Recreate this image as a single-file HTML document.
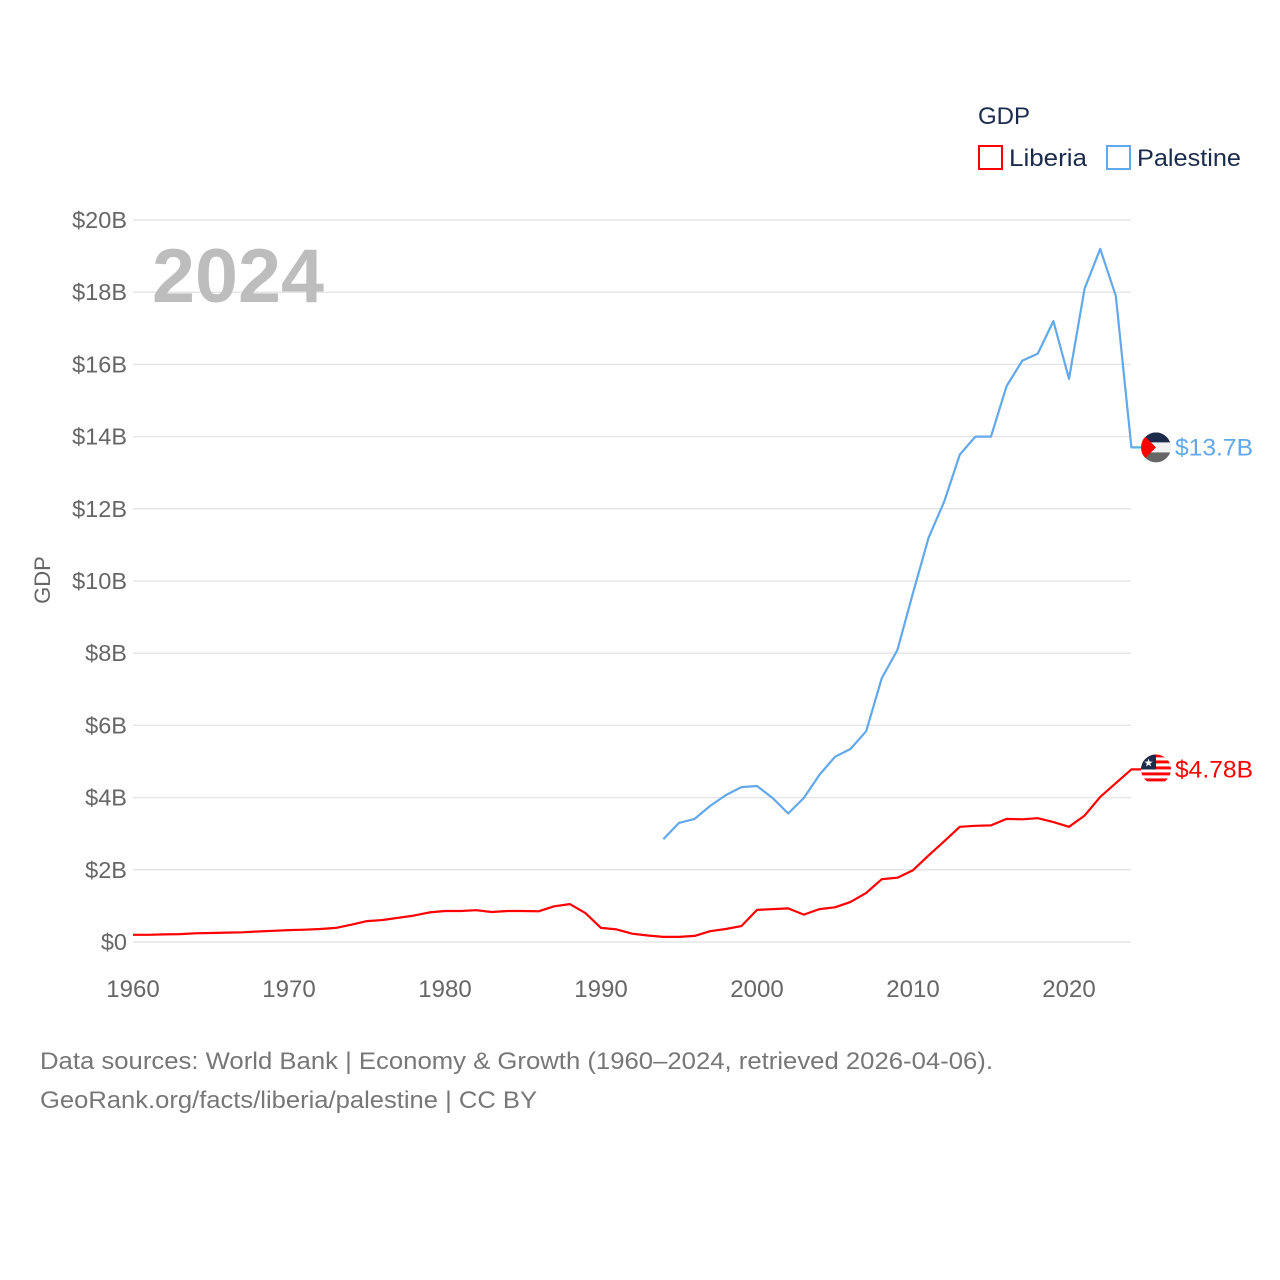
<!DOCTYPE html>
<html><head><meta charset="utf-8"><style>
html,body{margin:0;padding:0;background:#fff;}
svg{display:block;font-family:"Liberation Sans",sans-serif;}
</style></head><body>
<svg id="chart" width="1280" height="1280" viewBox="0 0 1280 1280">
<g id="grid"></g>
<g id="yticks"></g>
<g id="xticks"></g>
<text x="152" y="302" font-size="76" font-weight="bold" fill="#bdbdbd" textLength="172" lengthAdjust="spacingAndGlyphs">2024</text>
<text transform="translate(50,580) rotate(-90)" text-anchor="middle" font-size="22" fill="#666">GDP</text>
<g id="series"></g>
<g>
<text x="978" y="124" font-size="24" fill="#1a2b4c">GDP</text>
<g><rect x="979" y="146" width="23" height="23" fill="none" stroke="#ff0000" stroke-width="2"/><text x="1009" y="166" font-size="24" fill="#1a2b4c" textLength="78" lengthAdjust="spacingAndGlyphs">Liberia</text></g>
<g><rect x="1107" y="146" width="23" height="23" fill="none" stroke="#62a8ea" stroke-width="2"/><text x="1137" y="166" font-size="24" fill="#1a2b4c" textLength="104" lengthAdjust="spacingAndGlyphs">Palestine</text></g>
</g>
<text x="40" y="1069" font-size="24" fill="#777" textLength="953" lengthAdjust="spacingAndGlyphs">Data sources: World Bank | Economy &amp; Growth (1960–2024, retrieved 2026-04-06).</text>
<text x="40" y="1108" font-size="24" fill="#777" textLength="497" lengthAdjust="spacingAndGlyphs">GeoRank.org/facts/liberia/palestine | CC BY</text>
</svg>
<script>
const yTicks=[0,2,4,6,8,10,12,14,16,18,20];
const xTicks=[1960,1970,1980,1990,2000,2010,2020];
const liberiaYears=[1960,1961,1962,1963,1964,1965,1966,1967,1968,1969,1970,1971,1972,1973,1974,1975,1976,1977,1978,1979,1980,1981,1982,1983,1984,1985,1986,1987,1988,1989,1990,1991,1992,1993,1994,1995,1996,1997,1998,1999,2000,2001,2002,2003,2004,2005,2006,2007,2008,2009,2010,2011,2012,2013,2014,2015,2016,2017,2018,2019,2020,2021,2022,2023,2024];
const liberiaGDP=[0.20,0.20,0.21,0.22,0.24,0.25,0.26,0.27,0.29,0.31,0.33,0.34,0.36,0.39,0.48,0.58,0.61,0.67,0.73,0.82,0.86,0.86,0.88,0.83,0.86,0.86,0.85,0.99,1.05,0.80,0.39,0.35,0.23,0.18,0.14,0.14,0.17,0.30,0.36,0.44,0.89,0.91,0.93,0.76,0.91,0.96,1.11,1.36,1.74,1.78,1.99,2.40,2.79,3.19,3.22,3.23,3.41,3.40,3.43,3.32,3.19,3.50,4.02,4.40,4.78];
const palestineYears=[1994,1995,1996,1997,1998,1999,2000,2001,2002,2003,2004,2005,2006,2007,2008,2009,2010,2011,2012,2013,2014,2015,2016,2017,2018,2019,2020,2021,2022,2023,2024];
const palestineGDP=[2.85,3.30,3.41,3.77,4.07,4.29,4.32,3.99,3.56,3.99,4.63,5.13,5.35,5.84,7.31,8.09,9.67,11.2,12.2,13.5,14.0,14.0,15.4,16.1,16.3,17.2,15.6,18.1,19.2,17.9,13.7];
const endLabels=["$4.78B","$13.7B"];
const NS="http://www.w3.org/2000/svg";
const X=y=>133+(y-1960)*15.6;
const Y=v=>942-v*36.1;
function mk(tag,attrs,parent){const e=document.createElementNS(NS,tag);for(const k in attrs)e.setAttribute(k,attrs[k]);parent.appendChild(e);return e;}
const grid=document.getElementById('grid'),yt=document.getElementById('yticks'),xt=document.getElementById('xticks'),ser=document.getElementById('series');
yTicks.forEach(v=>{
 const l=mk('line',{x1:133,x2:1131,y1:Y(v),y2:Y(v),stroke:'#e6e6e6','stroke-width':1.5},grid);
 
 
 const t=mk('text',{x:127,y:Y(v)+8,'text-anchor':'end','font-size':23.5,fill:'#666'},yt);
 t.textContent='$'+v+(v?'B':'');
 
 
});
xTicks.forEach(v=>{
 const t=mk('text',{x:X(v),y:997,'text-anchor':'middle','font-size':24,fill:'#666'},xt);
 t.textContent=v;
 
 
});
function line(years,vals,color,name,label,flag){
 const pts=years.map((y,i)=>X(y).toFixed(1)+','+Y(vals[i]).toFixed(1));
 const last=vals[vals.length-1];
 pts.push('1141,'+Y(last).toFixed(1));
 const p=mk('polyline',{points:pts.join(' '),fill:'none',stroke:color,'stroke-width':2.2,'stroke-linejoin':'round'},ser);
 
 
 const cy=Y(last);
 const g=mk('g',{},ser);
 
 
 flag(g,1156,cy);
 const t=mk('text',{x:1175,y:cy+8,'font-size':24,fill:color,textLength:78,lengthAdjust:'spacingAndGlyphs'},ser);
 t.textContent=label;
 
 
}
function palFlag(g,cx,cy){
 const cp=mk('clipPath',{id:'cp'},g);mk('circle',{cx,cy,r:15},cp);
 const gg=mk('g',{'clip-path':'url(#cp)'},g);
 mk('rect',{x:cx-15,y:cy-15,width:30,height:10,fill:'#1c2b4a'},gg);
 mk('rect',{x:cx-15,y:cy-5,width:30,height:10,fill:'#f2f2f2'},gg);
 mk('rect',{x:cx-15,y:cy+5,width:30,height:10,fill:'#666'},gg);
 mk('polygon',{points:`${cx-15},${cy-15} ${cx},${cy} ${cx-15},${cy+15}`,fill:'#f00'},gg);
}
function libFlag(g,cx,cy){
 const cp=mk('clipPath',{id:'cl'},g);mk('circle',{cx,cy,r:15},cp);
 const gg=mk('g',{'clip-path':'url(#cl)'},g);
 for(let i=0;i<10;i++)mk('rect',{x:cx-15,y:cy-15+i*3,width:30,height:3,fill:i%2?'#fff':'#f00'},gg);
 mk('rect',{x:cx-15,y:cy-15,width:15,height:15,fill:'#1c2b4a'},gg);
 mk('text',{x:cx-7.5,y:cy-3,'font-size':11,fill:'#fff','text-anchor':'middle'},gg).textContent='★';
}
line(liberiaYears,liberiaGDP,'#ff0000','liberia',endLabels[0],libFlag);
line(palestineYears,palestineGDP,'#62a8ea','palestine',endLabels[1],palFlag);
</script>
</body></html>
